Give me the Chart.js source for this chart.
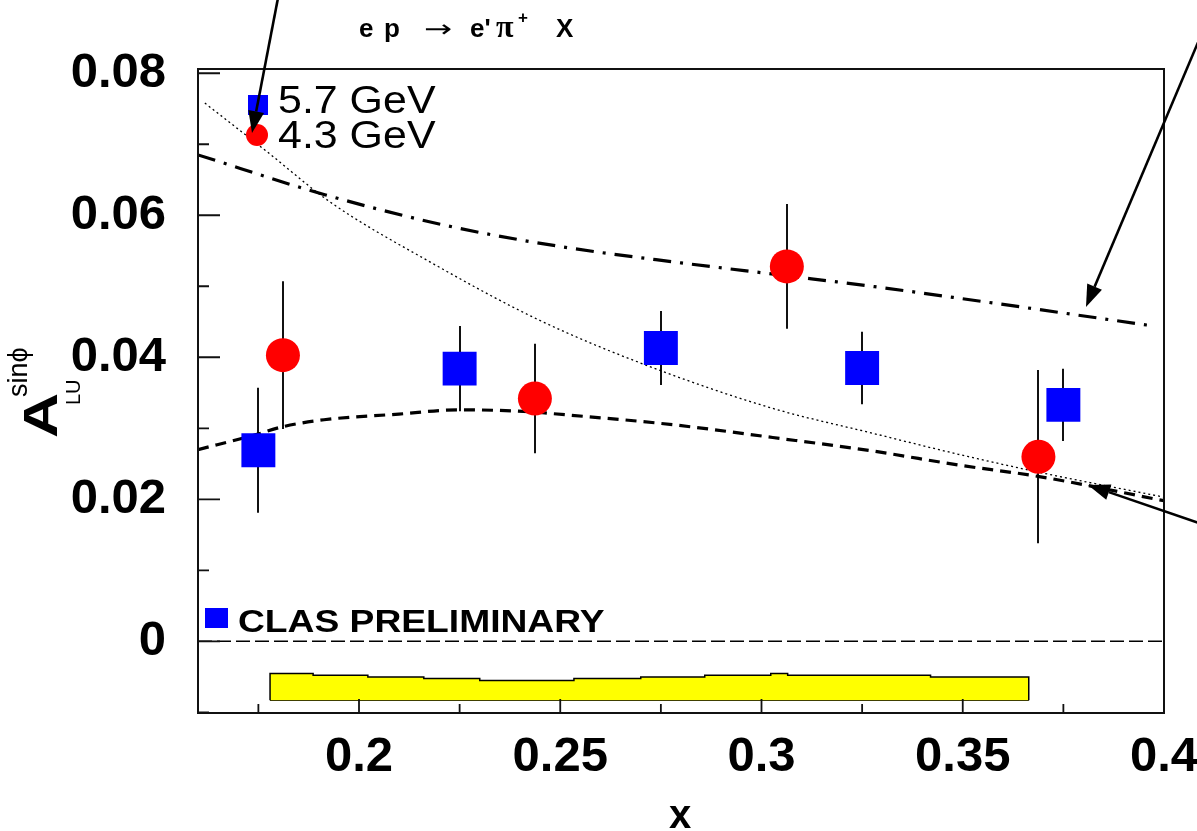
<!DOCTYPE html>
<html><head><meta charset="utf-8">
<script src="https://cdn.jsdelivr.net/npm/chart.js@4.4.1/dist/chart.umd.min.js"></script>
<style>html,body{margin:0;padding:0;background:#fff;overflow:hidden}canvas{display:block}</style>
</head><body>
<canvas id="c" width="1197" height="831"></canvas>
<script>
// ---- axis ranges and ticks ----
const xMin = 0.16, xMax = 0.4;
const yMin = -0.0101, yMax = 0.0806;
const xTickValues = [0.2, 0.25, 0.3, 0.35, 0.4];
const xTickLabels = ["0.2", "0.25", "0.3", "0.35", "0.4"];
const xMinorTicks = [0.175, 0.225, 0.275, 0.325, 0.375];
const yTickValues = [0, 0.02, 0.04, 0.06, 0.08];
const yTickLabels = ["0", "0.02", "0.04", "0.06", "0.08"];
const yMinorTicks = [-0.01, 0.01, 0.03, 0.05, 0.07];

// ---- data: 5.7 GeV (blue squares) ----
const x57 = [0.175, 0.225, 0.275, 0.325, 0.375];
const y57 = [0.0269, 0.0384, 0.0413, 0.0385, 0.0333];
const e57 = [0.0088, 0.0060, 0.0052, 0.0051, 0.0051];
// ---- data: 4.3 GeV (red circles) ----
const x43 = [0.1811, 0.2437, 0.3063, 0.3688];
const y43 = [0.0403, 0.0342, 0.0528, 0.0260];
const e43 = [0.0104, 0.0077, 0.0088, 0.0122];

// ---- model curves ----
const dotX = [0.1617, 0.1766, 0.193, 0.2171, 0.2449, 0.2722, 0.3028, 0.3276, 0.3492, 0.369, 0.4];
const dotY = [0.0758, 0.0692, 0.0618, 0.0536, 0.0452, 0.0387, 0.0328, 0.0293, 0.0263, 0.0238, 0.0203];
const dashX = [0.16, 0.1744, 0.1809, 0.1913, 0.2099, 0.2246, 0.2434, 0.2474, 0.278, 0.3028, 0.3276, 0.3492, 0.369, 0.4];
const dashY = [0.0270, 0.0291, 0.0302, 0.0312, 0.0320, 0.0326, 0.0323, 0.0321, 0.0305, 0.0287, 0.0268, 0.0248, 0.0232, 0.0198];
const dashDotX = [0.16, 0.1915, 0.2221, 0.25, 0.28, 0.306, 0.33, 0.3593, 0.3962];
const dashDotY = [0.0685, 0.0629, 0.0585, 0.0556, 0.0533, 0.0515, 0.0498, 0.0475, 0.0445];

// ---- systematic band ----
const bandEdges = [0.1779, 0.1886, 0.2022, 0.2161, 0.2300, 0.2534, 0.2700, 0.2859, 0.3023, 0.3065, 0.3420, 0.3664];
const bandTop = [-0.00455, -0.00479, -0.00503, -0.00525, -0.00554, -0.00525, -0.00503, -0.00479, -0.00455, -0.00479, -0.00503];
const bandBottom = -0.0083;

// build structures for the library
const pts = (xs, ys) => xs.map((x, i) => ({x: x, y: ys[i]}));
const bandOutline = [{x: bandEdges[0], y: bandBottom}];
bandTop.forEach((t, i) => { bandOutline.push({x: bandEdges[i], y: t}); bandOutline.push({x: bandEdges[i + 1], y: t}); });
bandOutline.push({x: bandEdges[bandEdges.length - 1], y: bandBottom});
const bandBase = [{x: bandEdges[0], y: bandBottom}, {x: bandEdges[bandEdges.length - 1], y: bandBottom}];

const FONT = "'Liberation Sans', Arial, Helvetica, sans-serif";

const errorBars = {
  id: 'errorBars',
  beforeDatasetsDraw(chart) {
    const {ctx, scales: {x, y}} = chart;
    ctx.save();
    ctx.strokeStyle = '#111';
    ctx.lineWidth = 2;
    const draw = (xs, ys, es) => xs.forEach((xv, i) => {
      const px = Math.round(x.getPixelForValue(xv));
      ctx.beginPath();
      ctx.moveTo(px, y.getPixelForValue(ys[i] + es[i]));
      ctx.lineTo(px, y.getPixelForValue(ys[i] - es[i]));
      ctx.stroke();
    });
    draw(x57, y57, e57);
    draw(x43, y43, e43);
    ctx.restore();
  }
};

function arrow(ctx, x1, y1, x2, y2) {
  const a = Math.atan2(y2 - y1, x2 - x1);
  const L = 22, W = 8;
  const bx = x2 - L * Math.cos(a), by = y2 - L * Math.sin(a);
  ctx.beginPath();
  ctx.moveTo(x1, y1); ctx.lineTo(bx, by); ctx.stroke();
  ctx.beginPath();
  ctx.moveTo(x2, y2);
  ctx.lineTo(bx + W * Math.sin(a), by - W * Math.cos(a));
  ctx.lineTo(bx - W * Math.sin(a), by + W * Math.cos(a));
  ctx.closePath(); ctx.fill();
}

function stretchText(ctx, text, x, y, sx) {
  ctx.save(); ctx.translate(x, y); ctx.scale(sx, 1); ctx.fillText(text, 0, 0); ctx.restore();
}

const decorations = {
  id: 'decorations',
  afterDraw(chart) {
    const {ctx, chartArea: ca, scales: {x, y}} = chart;
    ctx.save();
    // frame
    ctx.strokeStyle = '#111'; ctx.lineWidth = 2;
    ctx.strokeRect(ca.left, ca.top, ca.right - ca.left, ca.bottom - ca.top);
    // inward ticks
    ctx.lineWidth = 1.8;
    ctx.beginPath();
    xTickValues.forEach(v => { if (v < xMax) { const p = x.getPixelForValue(v); ctx.moveTo(p, ca.bottom); ctx.lineTo(p, ca.bottom - 14); } });
    xMinorTicks.forEach(v => { const p = x.getPixelForValue(v); ctx.moveTo(p, ca.bottom); ctx.lineTo(p, ca.bottom - 9); });
    yTickValues.forEach(v => { const p = y.getPixelForValue(v); ctx.moveTo(ca.left, p); ctx.lineTo(ca.left + 22, p); });
    yMinorTicks.forEach(v => { const p = y.getPixelForValue(v); ctx.moveTo(ca.left, p); ctx.lineTo(ca.left + 11, p); });
    ctx.stroke();

    ctx.fillStyle = '#000';
    ctx.textBaseline = 'alphabetic';
    ctx.textAlign = 'left';
    // legend
    ctx.fillStyle = '#0000ff'; ctx.fillRect(248, 95, 20, 20);
    ctx.fillStyle = '#ff0000'; ctx.beginPath(); ctx.arc(257, 135, 11, 0, 2 * Math.PI); ctx.fill();
    ctx.fillStyle = '#000';
    ctx.font = "38px " + FONT;
    stretchText(ctx, "5.7 GeV", 278, 113, 1.13);
    stretchText(ctx, "4.3 GeV", 278, 148, 1.13);
    // preliminary label
    ctx.fillStyle = '#0000ff'; ctx.fillRect(205, 608, 23, 20);
    ctx.fillStyle = '#000';
    ctx.font = "bold 31px " + FONT;
    stretchText(ctx, "CLAS PRELIMINARY", 238, 632, 1.2);

    // title pieces
    ctx.font = "bold 26px " + FONT;
    ctx.fillText("e", 359, 37);
    ctx.fillText("p", 384, 37);
    ctx.font = "24px 'DejaVu Sans', sans-serif";
    stretchText(ctx, "\u2192", 424, 37, 1.4);
    ctx.font = "bold 26px " + FONT;
    ctx.fillText("e'", 470, 37);
    ctx.font = "bold 32px 'Liberation Serif', 'DejaVu Serif', serif";
    ctx.fillText("\u03C0", 496, 37);
    ctx.font = "bold 17px " + FONT;
    ctx.fillText("+", 518, 23);
    ctx.font = "bold 26px " + FONT;
    ctx.fillText("X", 556, 37);

    // y axis title
    ctx.save();
    ctx.translate(57, 438); ctx.rotate(-Math.PI / 2);
    ctx.font = "bold 48px " + FONT;
    stretchText(ctx, "A", 0, 0, 1.3);
    ctx.font = "27px " + FONT;
    ctx.fillText("sin\u03D5", 41, -30);
    ctx.font = "20px " + FONT;
    ctx.fillText("LU", 33, 23);
    ctx.restore();

    // x axis title
    ctx.font = "bold 40px " + FONT;
    ctx.textAlign = 'center';
    ctx.fillText("x", 680, 828);

    // arrows
    ctx.strokeStyle = '#000'; ctx.fillStyle = '#000'; ctx.lineWidth = 2.6;
    arrow(ctx, 278, -2, 252, 133);
    arrow(ctx, 1199, 40, 1086, 307);
    arrow(ctx, 1199, 523, 1088, 485);
    ctx.restore();
  }
};

new Chart(document.getElementById('c'), {
  type: 'scatter',
  data: {
    datasets: [
      {label: '5.7 GeV', data: pts(x57, y57), pointStyle: 'rect', pointRadius: 24, backgroundColor: '#0000ff', borderColor: '#0000ff', borderWidth: 0, order: 0},
      {label: '4.3 GeV', data: pts(x43, y43), pointStyle: 'circle', pointRadius: 17, backgroundColor: '#ff0000', borderColor: '#ff0000', borderWidth: 0, order: 1},
      {label: 'dotted', data: pts(dotX, dotY), showLine: true, pointRadius: 0, borderColor: '#000', borderWidth: 1.3, borderDash: [2, 3], cubicInterpolationMode: 'monotone', order: 2},
      {label: 'dashed', data: pts(dashX, dashY), showLine: true, pointRadius: 0, borderColor: '#000', borderWidth: 3.2, borderDash: [11, 7], cubicInterpolationMode: 'monotone', order: 3},
      {label: 'dashdot', data: pts(dashDotX, dashDotY), showLine: true, pointRadius: 0, borderColor: '#000', borderWidth: 3.2, borderDash: [18, 9, 3, 9], cubicInterpolationMode: 'monotone', order: 4},
      {label: 'zero', data: [{x: xMin, y: 0}, {x: xMax, y: 0}], showLine: true, pointRadius: 0, borderColor: '#000', borderWidth: 1.6, borderDash: [14, 5], order: 5},
      {type: 'line', label: 'band', data: bandOutline, pointRadius: 0, borderColor: '#000', borderWidth: 1.5, backgroundColor: '#ffff00', fill: '+1', tension: 0, order: 6},
      {type: 'line', label: 'bandBase', data: bandBase, pointRadius: 0, borderColor: '#000', borderWidth: 1.5, fill: false, tension: 0, order: 7}
    ]
  },
  options: {
    responsive: false,
    animation: false,
    events: [],
    devicePixelRatio: 1,
    layout: {padding: {top: 69, right: 33, left: 0, bottom: 0}},
    plugins: {legend: {display: false}, tooltip: {enabled: false}, title: {display: false}},
    scales: {
      x: {
        type: 'linear', position: 'bottom', min: xMin, max: xMax,
        grid: {display: false, drawTicks: false}, border: {display: false},
        ticks: {font: {family: FONT, size: 49, weight: 'bold'}, color: '#000', padding: 15, maxRotation: 0,
          callback: (v) => { const i = xTickValues.findIndex(t => Math.abs(t - v) < 1e-9); return i >= 0 ? xTickLabels[i] : ''; }},
        afterBuildTicks: (s) => { s.ticks = xTickValues.map(v => ({value: v})); },
        afterFit: (s) => { s.height = 118; s.paddingLeft = 0; s.paddingRight = 0; }
      },
      y: {
        type: 'linear', position: 'left', min: yMin, max: yMax,
        grid: {display: false, drawTicks: false}, border: {display: false},
        ticks: {font: {family: FONT, size: 49, weight: 'bold'}, color: '#000', padding: 32,
          callback: (v) => { const i = yTickValues.findIndex(t => Math.abs(t - v) < 1e-9); return i >= 0 ? yTickLabels[i] : ''; }},
        afterBuildTicks: (s) => { s.ticks = yTickValues.map(v => ({value: v})); },
        afterFit: (s) => { s.width = 198; s.paddingTop = 0; s.paddingBottom = 0; }
      }
    }
  },
  plugins: [errorBars, decorations]
});
</script>
</body></html>
